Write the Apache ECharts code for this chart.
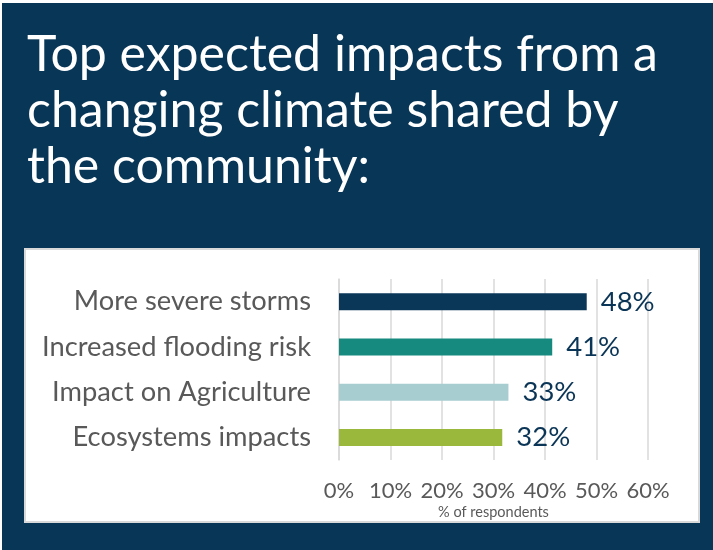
<!DOCTYPE html>
<html>
<head>
<meta charset="utf-8">
<script src="https://cdn.jsdelivr.net/npm/echarts@6/dist/echarts.min.js"></script>
<style>
html,body{margin:0;padding:0;background:#ffffff;}
#chart{width:713px;height:550px;}
</style>
</head>
<body>
<div id="chart"></div>
<script>
const titleLines = ["Top expected impacts from a", "changing climate shared by", "the community:"];
const categories = ["More severe storms", "Increased flooding risk", "Impact on Agriculture", "Ecosystems impacts"];
const values = [48.1, 41.4, 32.9, 31.7];
const barColors = ["#0A3658", "#178A7F", "#A8CDD0", "#9AB93C"];
const xTicks = [0, 10, 20, 30, 40, 50, 60];
const xAxisName = "% of respondents";

const chart = echarts.init(document.getElementById('chart'), null, {renderer: 'canvas'});
const FONT = 'Lato';
chart.setOption({
  backgroundColor: '#ffffff',
  animation: false,
  graphic: [
    {type: 'rect', z: -10, shape: {x: 2, y: 3, width: 711, height: 547}, style: {fill: '#083657'}},
    {type: 'rect', z: -9, shape: {x: 25, y: 249, width: 674, height: 273}, style: {fill: '#ffffff', stroke: '#D9D9D9', lineWidth: 2}}
  ],
  title: {
    text: titleLines.join('\n'),
    left: 22, top: 22,
    textStyle: {color: '#ffffff', fontFamily: FONT, fontSize: 50, fontWeight: 'normal', lineHeight: 56}
  },
  grid: {left: 339, right: 65, top: 279, bottom: 90, containLabel: false},
  xAxis: {
    type: 'value', min: xTicks[0], max: xTicks[xTicks.length - 1], interval: 10,
    name: xAxisName, nameLocation: 'middle', nameGap: 45,
    nameTextStyle: {color: '#595959', fontFamily: FONT, fontSize: 14.5},
    axisLine: {show: false}, axisTick: {show: false},
    axisLabel: {color: '#595959', fontFamily: FONT, fontSize: 22, margin: 20, formatter: '{value}%'},
    splitLine: {show: true, lineStyle: {color: '#D9D9D9', width: 1.5}}
  },
  yAxis: {
    type: 'category', data: categories, inverse: true,
    axisLine: {show: true, lineStyle: {color: '#D9D9D9', width: 1.5}},
    axisTick: {show: false},
    axisLabel: {color: '#595959', fontFamily: FONT, fontSize: 27.3, margin: 28}
  },
  series: [{
    type: 'bar', barWidth: 17,
    data: values.map((v, i) => ({value: v, itemStyle: {color: barColors[i]}})),
    label: {show: true, position: 'right', distance: 14, color: '#0B3556', fontFamily: FONT, fontSize: 27.5,
      formatter: p => Math.round(p.value) + '%'}
  }]
});
</script>
</body>
</html>
